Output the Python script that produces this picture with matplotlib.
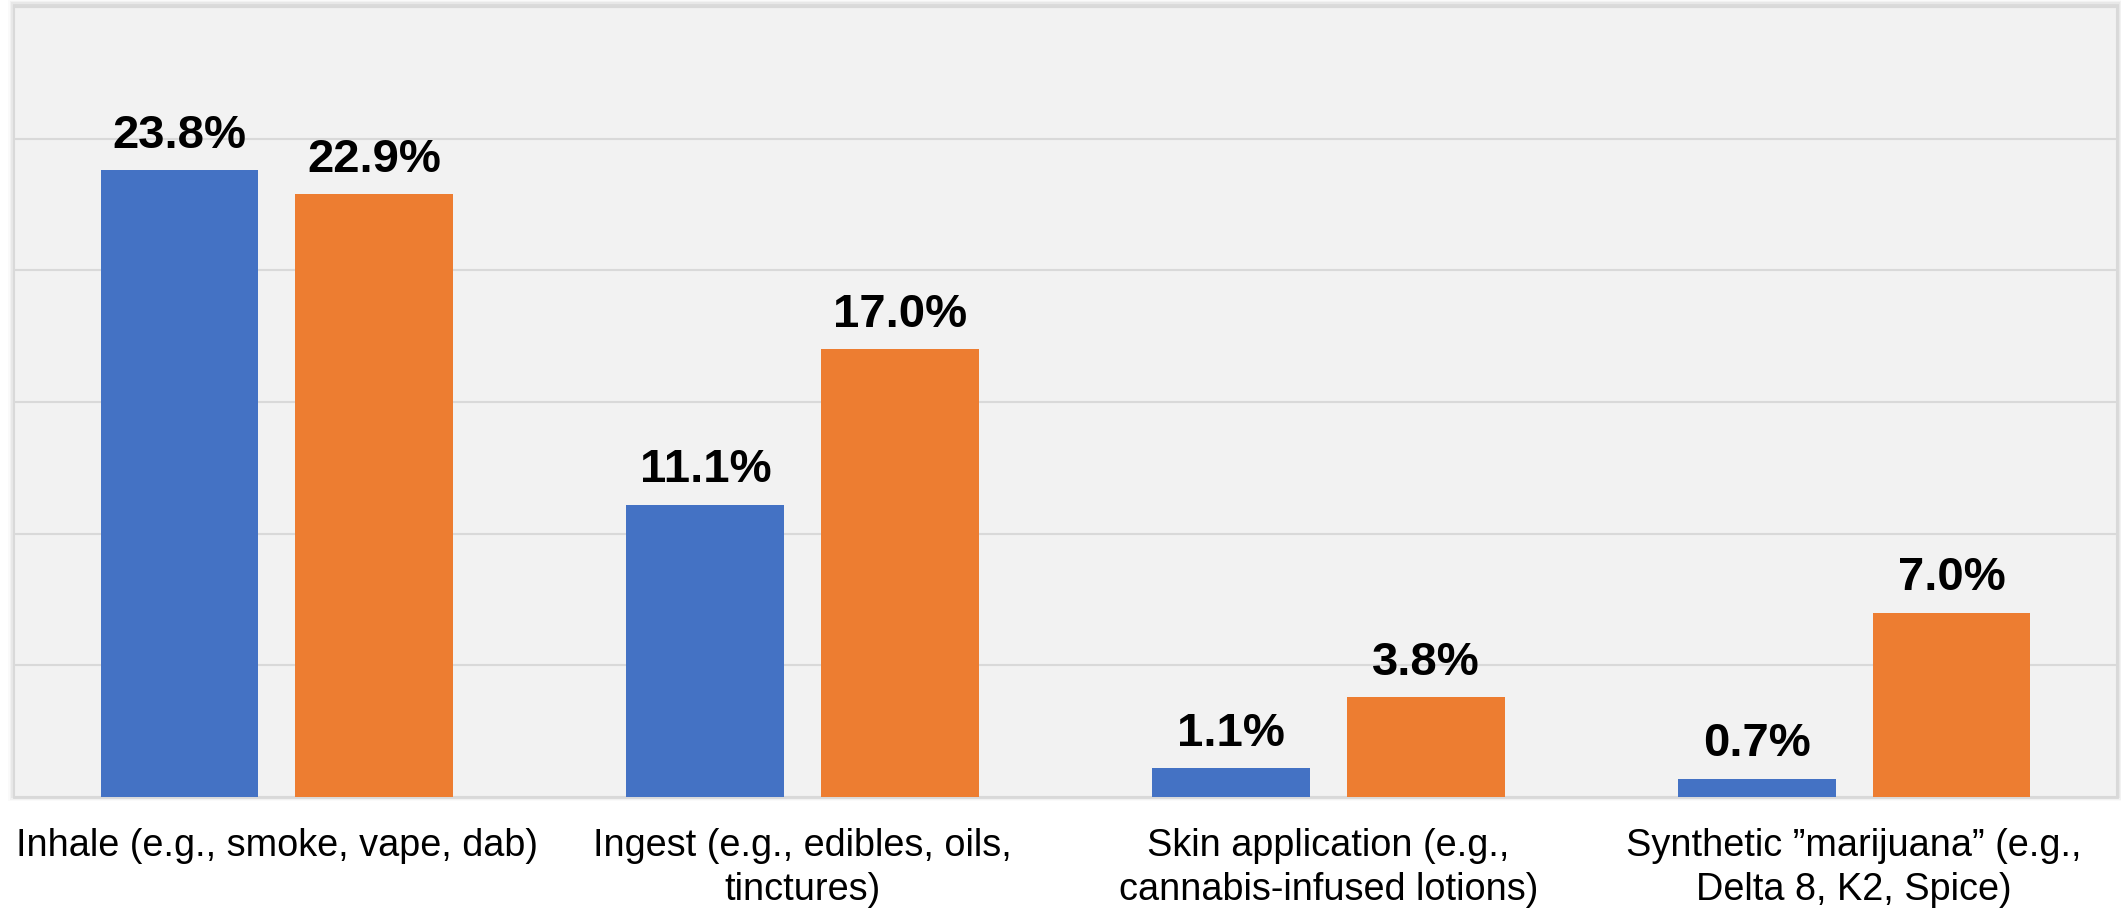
import matplotlib
matplotlib.use("Agg")
import matplotlib.pyplot as plt
import numpy as np
from matplotlib.patches import Rectangle

# Data
categories = [
    "Inhale (e.g., smoke, vape, dab)",
    "Ingest (e.g., edibles, oils,\ntinctures)",
    "Skin application (e.g.,\ncannabis-infused lotions)",
    "Synthetic \u201dmarijuana\u201d (e.g.,\nDelta 8, K2, Spice)",
]
values_blue = [23.8, 11.1, 1.1, 0.7]
values_orange = [22.9, 17.0, 3.8, 7.0]

BLUE = "#4472C4"
ORANGE = "#ED7D31"
PANEL = "#F2F2F2"
GRID = "#D9D9D9"

W, H = 2121, 908
fig = plt.figure(figsize=(W / 100, H / 100), dpi=100)
fig.patch.set_facecolor("white")

left, right, bottom, top = 14 / W, 2117 / W, (H - 797) / H, (H - 7) / H
ax = fig.add_axes([left, bottom, right - left, top - bottom])

# soft drop shadow around the chart panel
for i, a in enumerate([0.05, 0.04, 0.03, 0.02]):
    pad = (i + 1) * 1.5
    fig.patches.append(Rectangle(
        ((14 - pad) / W, (H - 797 - pad + 2) / H),
        (2103 + 2 * pad) / W, (790 + 2 * pad) / H,
        transform=fig.transFigure, facecolor="black", alpha=a,
        edgecolor="none", zorder=0))

ax.set_facecolor(PANEL)
ax.set_zorder(1)

x = np.arange(len(categories))
bw = 0.30
off = 0.185
b1 = ax.bar(x - off, values_blue, bw, color=BLUE, zorder=3)
b2 = ax.bar(x + off, values_orange, bw, color=ORANGE, zorder=3)

ax.set_xlim(-0.5, len(categories) - 0.5)
ax.set_ylim(0, 30)
ax.set_yticks(np.arange(0, 31, 5))
ax.yaxis.grid(True, color=GRID, linewidth=1.5, zorder=0)
ax.set_axisbelow(True)
ax.tick_params(axis="y", left=False, labelleft=False)
ax.tick_params(axis="x", bottom=False, pad=19)
ax.set_xticks(x)
ax.set_xticklabels(categories, fontsize=27.3, family="Liberation Sans",
                   linespacing=1.26, va="top")

for s in ["top", "left", "right"]:
    ax.spines[s].set_color(GRID)
    ax.spines[s].set_linewidth(1.5)
ax.spines["bottom"].set_color(GRID)
ax.spines["bottom"].set_linewidth(2)

for bars, vals in [(b1, values_blue), (b2, values_orange)]:
    for rect, v in zip(bars, vals):
        ax.annotate(f"{v:.1f}%", (rect.get_x() + rect.get_width() / 2, v),
                    xytext=(0, 16), textcoords="offset points",
                    ha="center", va="baseline", fontsize=34,
                    fontweight="bold", family="Liberation Sans", color="black")

fig.savefig("out.png", dpi=100)
